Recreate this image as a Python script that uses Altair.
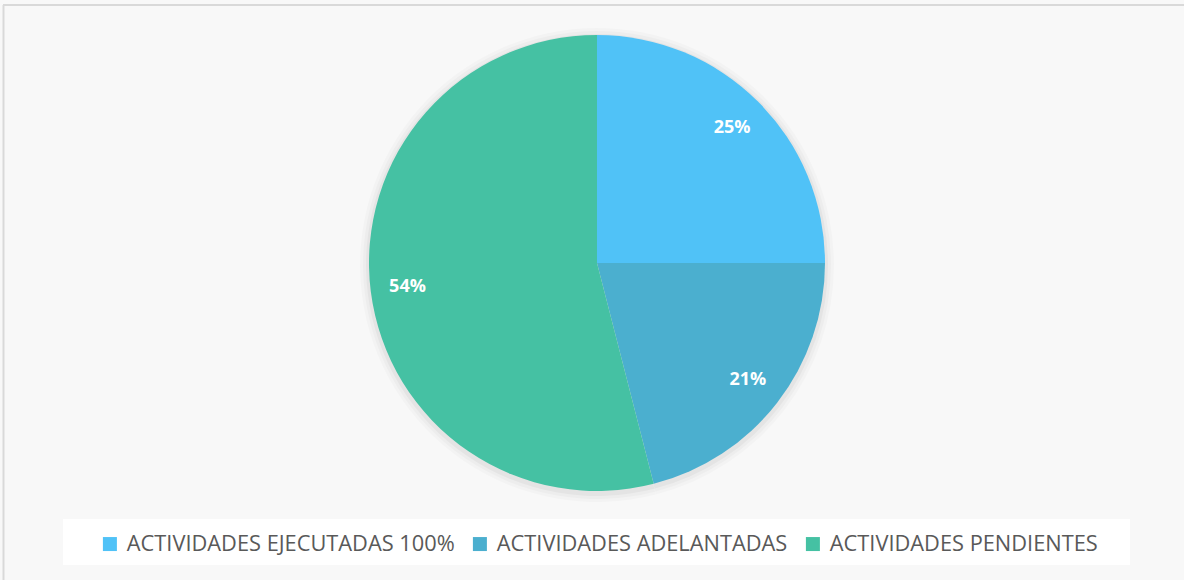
import altair as alt
import pandas as pd

categories = ["ACTIVIDADES EJECUTADAS 100%", "ACTIVIDADES ADELANTADAS", "ACTIVIDADES PENDIENTES"]
values = [25, 21, 54]
labels = ["25%", "21%", "54%"]
colors = ["#50C2F7", "#4BAFCF", "#45C1A3"]

df = pd.DataFrame({"cat": categories, "val": values, "lab": labels, "order": [0, 1, 2]})

CX, CY, R = 597, 263, 228

color_scale = alt.Scale(domain=categories, range=colors)

base = alt.Chart(df)

shadows = []
for extra, op in [(9, 0.02), (6, 0.025), (3, 0.035)]:
    shadows.append(base.mark_arc(color="#000000", opacity=op).encode(
        theta=alt.Theta("val:Q", stack=True),
        order=alt.Order("order:Q"),
        x=alt.value(CX), y=alt.value(CY + 2), radius=alt.value(R + extra),
    ))

pie = base.mark_arc(stroke=None).encode(
    theta=alt.Theta("val:Q", stack=True),
    order=alt.Order("order:Q"),
    color=alt.Color(
        "cat:N", scale=color_scale, sort=categories,
        legend=alt.Legend(
            title=None, orient="none", direction="horizontal",
            legendX=99, legendY=533,
            symbolType="square", symbolSize=196, symbolStrokeWidth=0,
            labelFont="Open Sans", labelFontSize=21.8, labelColor="#595959",
            labelLimit=500, columnPadding=14, symbolOffset=0,
            padding=0, labelOffset=6,
        ),
    ),
    x=alt.value(CX), y=alt.value(CY), radius=alt.value(R),
)

text = base.mark_text(
    font="Open Sans", fontSize=18, fontWeight="bold", color="#FFFFFF"
).encode(
    theta=alt.Theta("val:Q", stack=True),
    order=alt.Order("order:Q"),
    text="lab:N",
    x=alt.value(CX), y=alt.value(CY), radius=alt.value(191),
)

one = alt.Chart(df.head(1))
legend_box = one.mark_rect(color="#FFFFFF").encode(
    x=alt.value(63), x2=alt.value(1130), y=alt.value(519), y2=alt.value(565)
)
border_top = one.mark_rule(color="#D9D9D9", strokeWidth=2).encode(
    x=alt.value(3), x2=alt.value(1184), y=alt.value(5)
)
border_left = one.mark_rule(color="#D9D9D9", strokeWidth=2).encode(
    x=alt.value(3.5), y=alt.value(5), y2=alt.value(580)
)

chart = alt.layer(legend_box, *shadows, pie, text, border_top, border_left).properties(
    width=1184, height=580,
    autosize=alt.AutoSizeParams(type="none"),
    padding=0,
    background="#F8F8F8",
).configure_view(stroke=None)

chart.save("out.html", embed_options={"renderer": "svg", "actions": False})
